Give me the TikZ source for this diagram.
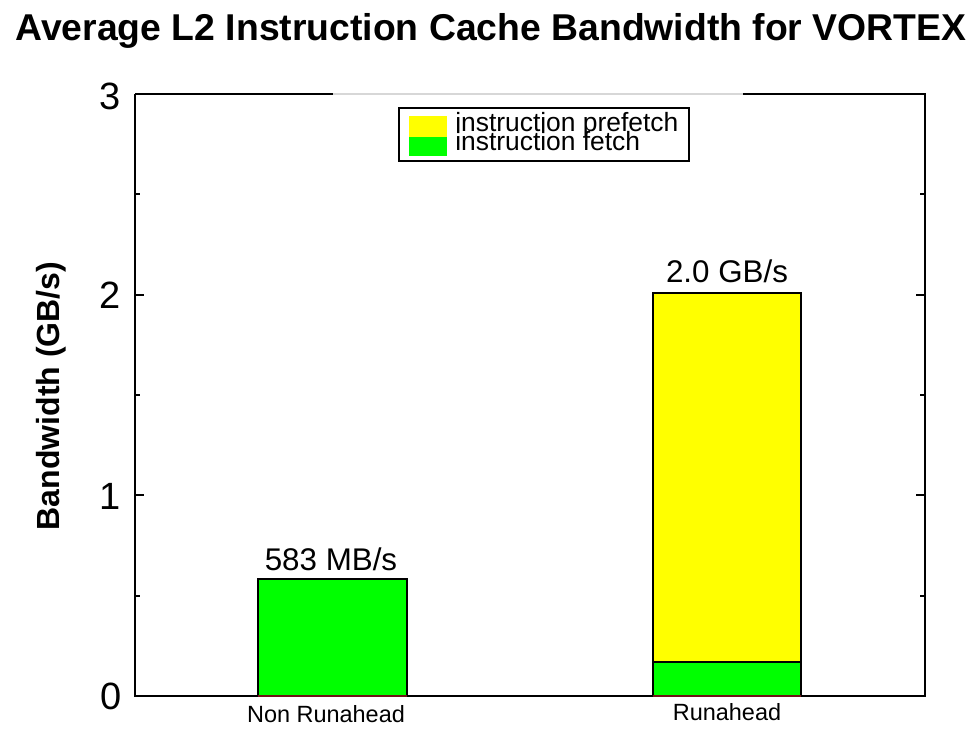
\documentclass[tikz,border=0pt]{standalone}
\usepackage{fontspec}
\setmainfont{Liberation Sans}
\definecolor{barY}{RGB}{255,255,0}
\definecolor{barG}{RGB}{0,255,0}
\definecolor{frameGray}{RGB}{215,215,215}
\definecolor{baseRed}{RGB}{110,20,20}
\begin{document}
\begin{tikzpicture}[x=0.75pt,y=-0.75pt,
  axisline/.style={line width=1.5pt,black},
  tickline/.style={line width=1.3pt,black},
  barbox/.style={line width=1.1pt,draw=black},
  ticklbl/.style={inner sep=0pt,anchor=center,font=\fontsize{28.5}{31}\selectfont},
  barlbl/.style={inner sep=0pt,anchor=base,font=\fontsize{23.5}{26}\selectfont},
  xlbl/.style={inner sep=0pt,anchor=base,font=\fontsize{17.6}{20}\selectfont},
  leglbl/.style={inner sep=0pt,anchor=base west,font=\fontsize{19.8}{22}\selectfont},
]
\useasboundingbox (0,0) rectangle (979,730);
% title
\node[inner sep=0pt,anchor=base,font=\fontsize{28}{31}\selectfont\bfseries] (title) at (491,41) {Average L2 Instruction Cache Bandwidth for VORTEX};
% y label
\node[inner sep=0pt,anchor=base,rotate=90,font=\fontsize{24}{27}\selectfont\bfseries] (ylabel) at (60,396) {Bandwidth (GB/s)};
% bars
\fill[barG] (258,579) rectangle (407,696);
\draw[barbox] (258,696) -- (258,579) -- (407,579) -- (407,696);
\fill[barG] (653,662) rectangle (801,696);
\fill[barY] (653,293) rectangle (801,662);
\draw[barbox] (653,696) -- (653,293) -- (801,293) -- (801,696);
\draw[barbox] (653,662) -- (801,662);
% frame
\draw[axisline] (135,94) -- (135,696) -- (925,696) -- (925,94) -- (743,94);
\draw[axisline] (135,94) -- (333,94);
\draw[line width=1pt,frameGray] (333,94) -- (743,94);
\draw[line width=1pt,baseRed] (258,696) -- (407,696);
\draw[line width=1pt,baseRed] (653,696) -- (801,696);
% ticks
\foreach \yy in {94,294.7,495.3,696} {
  \draw[tickline] (135,\yy) -- (144,\yy);
  \draw[tickline] (925,\yy) -- (916,\yy);
}
\foreach \yy in {194.3,395,595.7} {
  \draw[tickline] (135,\yy) -- (140,\yy);
  \draw[tickline] (925,\yy) -- (920,\yy);
}
% tick labels
\node[ticklbl] (t3) at (110,96) {3};
\node[ticklbl] (t2) at (110,295) {2};
\node[ticklbl] (t1) at (110,496) {1};
\node[ticklbl] (t0) at (111,696) {0};
% bar labels
\node[barlbl] (l1) at (331,570.7) {583 MB/s};
\node[barlbl] (l2) at (727,283) {2.0 GB/s};
% x labels
\node[xlbl] (x1) at (326,723) {Non Runahead};
\node[xlbl] (x2) at (727,720) {Runahead};
% legend
\draw[line width=1.5pt,fill=white] (399.3,107.7) rectangle (689.3,160.7);
\fill[barY] (409.3,116) rectangle (446.7,136.7);
\fill[barG] (409.3,136.7) rectangle (446.7,156);
\node[leglbl] (lg1) at (455,131.7) {instruction prefetch};
\node[leglbl] (lg2) at (455,150.5) {instruction fetch};
\end{tikzpicture}
\end{document}
